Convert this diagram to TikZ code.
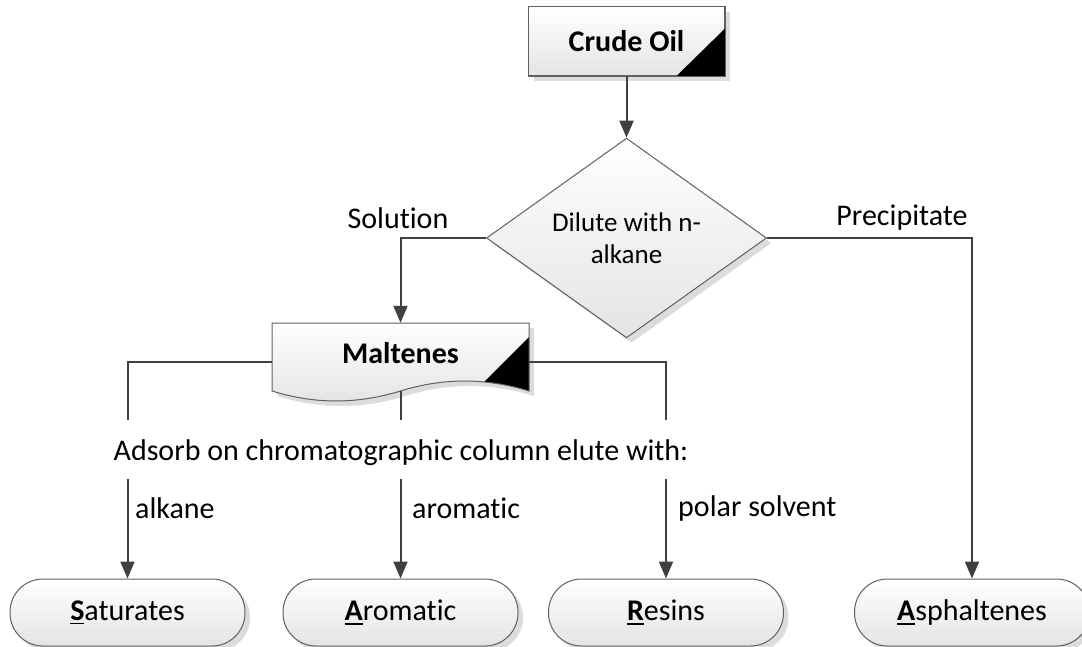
\documentclass[tikz,border=0pt]{standalone}
\usepackage{fontspec}
\setmainfont{Carlito}[Ligatures=NoCommon]
\usetikzlibrary{shapes.geometric,arrows.meta,shadows,calc}
\definecolor{linec}{HTML}{404040}
\definecolor{edgec}{HTML}{606060}
\definecolor{shadec}{HTML}{E4E4E4}
\definecolor{shadowc}{HTML}{DCDCDC}
\newcommand\ulletter[1]{\setbox0\hbox{\textbf{#1}}\rlap{\rule[-4pt]{\wd0}{1.8pt}}\box0}
\begin{document}
\begin{tikzpicture}[x=1pt,y=-1pt,
  font=\fontsize{30}{36}\selectfont,
  shp/.style={draw=edgec, line width=1pt, top color=white, bottom color=shadec,
    drop shadow={shadow xshift=5pt, shadow yshift=-5pt, fill=shadowc, opacity=1}},
  procbox/.style={shp, rectangle, minimum width=196pt, minimum height=69pt, inner sep=0pt, font=\fontsize{30}{36}\selectfont\bfseries},
  decbox/.style={shp, diamond, minimum width=280pt, minimum height=156pt, inner sep=0pt, align=center, font=\fontsize{27}{32}\selectfont},
  termbox/.style={shp, rectangle, rounded corners=33pt, minimum width=235pt, minimum height=67pt, inner sep=0pt},
  conn/.style={draw=linec, line width=2pt},
  arr/.style={conn, -{Triangle[length=17pt,width=14pt]}},
  lbl/.style={inner sep=0pt, anchor=center}
]
\useasboundingbox (0,0) rectangle (1082,647);

% Crude Oil
\node[procbox] (crude) at (626.5,41.5) {Crude Oil};
\fill[black] ($(crude.south east)+(0,-48)$) -- (crude.south east) -- ($(crude.south east)+(-49,0)$) -- cycle;
\draw[edgec, line width=1pt] (crude.north west) rectangle (crude.south east);

% Decision
\node[decbox] (dil) at (626.5,238) {Dilute with n-\\alkane};

% Maltenes document shape
\fill[shadowc, shift={(5,5)}] (272,323) -- (529,323) -- (529,391)
  .. controls (486,377.7) and (443,377.7) .. (400.5,391)
  .. controls (357,404.3) and (315,404.3) .. (272,391) -- cycle;
\path[top color=white, bottom color=shadec] (272,323) -- (529,323) -- (529,391)
  .. controls (486,377.7) and (443,377.7) .. (400.5,391)
  .. controls (357,404.3) and (315,404.3) .. (272,391) -- cycle;
\begin{scope}
  \clip (272,323) -- (529,323) -- (529,391)
  .. controls (486,377.7) and (443,377.7) .. (400.5,391)
  .. controls (357,404.3) and (315,404.3) .. (272,391) -- cycle;
  \fill[black] (529,337) -- (470,396) -- (540,396) -- (540,337) -- cycle;
\end{scope}
\draw[edgec, line width=1pt] (272,323) -- (529,323) -- (529,391)
  .. controls (486,377.7) and (443,377.7) .. (400.5,391)
  .. controls (357,404.3) and (315,404.3) .. (272,391) -- cycle;
\node[inner sep=0pt, minimum width=257pt, minimum height=68pt] (malt) at (400.5,357) {};
\node[lbl, font=\fontsize{30}{36}\selectfont\bfseries] (malttext) at (400.5,353) {Maltenes};

% Terminators
\node[termbox] (sat) at (127.5,612.5) {\ulletter{S}aturates};
\node[termbox] (aro) at (400.5,612.5) {\ulletter{A}romatic};
\node[termbox] (res) at (666,612.5) {\ulletter{R}esins};
\node[termbox] (asph) at (972,612.5) {\ulletter{A}sphaltenes};

% Labels
\node[lbl] (sol) at (398,218) {Solution};
\node[lbl] (prec) at (902,218) {Precipitate};
\node[lbl] (ads) at (401,453) {Adsorb on chromatographic column elute with:};
\node[lbl, anchor=west] (lalk) at (135,508) {alkane};
\node[lbl, anchor=west] (laro) at (412,508) {aromatic};
\node[lbl, anchor=west] (lpol) at (678,508) {polar solvent};

% Coordinates
\coordinate (u1) at (127.5,420);
\coordinate (u2) at (400.5,420);
\coordinate (u3) at (666,420);
\coordinate (d1) at (127.5,479);
\coordinate (d2) at (400.5,479);
\coordinate (d3) at (666,479);

% Connectors
\draw[arr] (crude.south) -- (dil.north);
\draw[arr] (dil.west) -| (malt.north);
\draw[arr] (dil.east) -| (asph.north);
\draw[conn] ($(malt.west)+(0,5)$) -| (u1);
\draw[conn] (malt.south) -- (u2);
\draw[conn] ($(malt.east)+(0,5)$) -| (u3);
\draw[arr] (d1) -- (sat.north);
\draw[arr] (d2) -- (aro.north);
\draw[arr] (d3) -- (res.north);
\end{tikzpicture}
\end{document}
